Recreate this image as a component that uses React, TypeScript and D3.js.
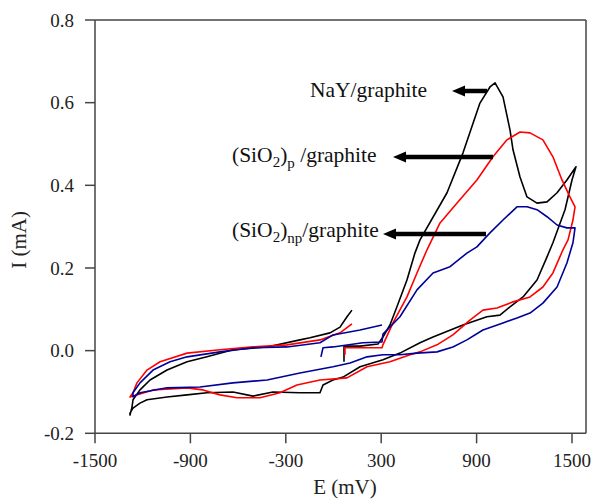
import React from "react";
import * as d3 from "d3";

const xTicks = [-1500, -900, -300, 300, 900, 1500];
const yTicks = [-0.2, 0.0, 0.2, 0.4, 0.6, 0.8];

// NaY/graphite (black)
const nayE = [66,66,167,280,311,355,399,462,512,544,714,814,921,984,1016,1066,1110,1129,1173,1217,1280,1343,1406,1468,1525,1500,1456,1380,1343,1280,1192,1110,1047,965,814,626,544,418,311,167,60,-3,-66,-85,-211,-381,-506,-632,-796,-921,-1047,-1173,-1217,-1261,-1280,-1280,-1267,-1261,-1217,-1154,-1047,-921,-796,-632,-418,-211,-148,-22,41,85,116];
const nayI = [-0.027,0.011,0.011,0.016,0.033,0.062,0.106,0.171,0.236,0.268,0.382,0.478,0.599,0.638,0.648,0.614,0.534,0.486,0.420,0.372,0.357,0.360,0.382,0.413,0.445,0.413,0.341,0.261,0.227,0.171,0.130,0.106,0.086,0.082,0.062,0.033,0.019,-0.006,-0.022,-0.039,-0.064,-0.071,-0.083,-0.102,-0.102,-0.100,-0.110,-0.100,-0.102,-0.107,-0.112,-0.119,-0.127,-0.139,-0.151,-0.156,-0.136,-0.119,-0.095,-0.071,-0.047,-0.027,-0.015,0.002,0.009,0.026,0.031,0.043,0.057,0.082,0.098];

// (SiO2)p/graphite (red)
const sipE = [72,72,305,311,374,462,525,588,670,777,902,1003,1091,1173,1236,1317,1380,1437,1487,1519,1506,1475,1443,1380,1317,1236,1129,1028,940,858,751,651,544,481,355,211,85,-85,-230,-337,-462,-607,-714,-821,-921,-1135,-1280,-1261,-1236,-1173,-1091,-921,-714,-506,-292,-85,41,116];
const sipI = [-0.010,0.007,0.007,0.014,0.067,0.130,0.188,0.244,0.309,0.357,0.413,0.469,0.510,0.529,0.527,0.510,0.469,0.413,0.372,0.348,0.316,0.268,0.244,0.188,0.154,0.130,0.118,0.103,0.098,0.074,0.038,0.014,-0.003,-0.010,-0.027,-0.039,-0.066,-0.071,-0.083,-0.102,-0.114,-0.114,-0.107,-0.095,-0.090,-0.095,-0.112,-0.102,-0.078,-0.047,-0.027,-0.006,0.002,0.009,0.014,0.026,0.043,0.065];

// (SiO2)np/graphite (blue)
const sinpE = [-79,-66,-3,185,305,311,418,525,626,733,839,902,984,1066,1154,1217,1280,1343,1406,1468,1519,1506,1468,1406,1317,1236,1154,1066,940,839,751,651,525,418,311,211,104,-3,-211,-418,-632,-840,-1047,-1217,-1261,-1261,-1217,-1135,-1028,-921,-714,-506,-292,-85,-3,167,305];
const sinpI = [-0.015,0.007,0.009,0.019,0.021,0.040,0.082,0.147,0.188,0.203,0.236,0.251,0.285,0.316,0.348,0.348,0.341,0.324,0.304,0.297,0.297,0.261,0.212,0.154,0.115,0.091,0.079,0.067,0.050,0.026,0.009,-0.003,-0.006,-0.010,-0.010,-0.015,-0.030,-0.039,-0.054,-0.071,-0.078,-0.088,-0.090,-0.102,-0.112,-0.102,-0.078,-0.047,-0.027,-0.015,-0.003,0.007,0.009,0.019,0.038,0.050,0.062];

const series = [
  { name: "NaY", E: nayE, I: nayI, color: "#000000" },
  { name: "SiO2p", E: sipE, I: sipI, color: "#ff0000" },
  { name: "SiO2np", E: sinpE, I: sinpI, color: "#00009a" },
];

const W = 592, H = 500;
const x = d3.scaleLinear().domain([-1500, 1500]).range([95, 572]);
const y = d3.scaleLinear().domain([-0.2, 0.8]).range([433.3, 20]);
const xRight = 586;
const font = "'Liberation Serif', 'Times New Roman', serif";
const axisColor = "#444";

export default function App() {
  const line = d3
    .line<[number, number]>()
    .x((d) => x(d[0]))
    .y((d) => y(d[1]));

  const arrows = [
    { x1: 487, x2: 452, yy: 91 },
    { x1: 493, x2: 393, yy: 157 },
    { x1: 486, x2: 383, yy: 234 },
  ];

  return (
    <svg width={W} height={H} style={{ position: "absolute", left: 0, top: 0, background: "#fff", fontFamily: font }}>
      {/* frame */}
      <line x1={x(-1500)} x2={xRight} y1={y(0.8)} y2={y(0.8)} stroke={axisColor} strokeWidth={1.5} />
      <line x1={xRight} x2={xRight} y1={y(0.8)} y2={y(-0.2)} stroke={axisColor} strokeWidth={1.5} />
      <line x1={x(-1500)} x2={xRight} y1={y(-0.2)} y2={y(-0.2)} stroke={axisColor} strokeWidth={1.5} />
      <line x1={x(-1500)} x2={x(-1500)} y1={y(0.8)} y2={y(-0.2)} stroke={axisColor} strokeWidth={1.5} />
      {/* y ticks */}
      {yTicks.map((t) => (
        <g key={"y" + t}>
          <line x1={x(-1500) - 10} x2={x(-1500)} y1={y(t)} y2={y(t)} stroke={axisColor} strokeWidth={1.5} />
          <text x={74} y={y(t)} dy="0.35em" textAnchor="end" fontSize={19} fill="#222">
            {t.toFixed(1)}
          </text>
        </g>
      ))}
      {/* x ticks */}
      {xTicks.map((t) => (
        <g key={"x" + t}>
          <line x1={x(t)} x2={x(t)} y1={y(-0.2)} y2={y(-0.2) + 10} stroke={axisColor} strokeWidth={1.5} />
          <text x={x(t)} y={467} textAnchor="middle" fontSize={19} fill="#222">
            {String(t)}
          </text>
        </g>
      ))}
      {/* axis titles */}
      <text x={345} y={494} textAnchor="middle" fontSize={21} fill="#222">E (mV)</text>
      <text transform="translate(26,240) rotate(-90)" textAnchor="middle" fontSize={21} fill="#222">I (mA)</text>

      {/* curves */}
      {series.map((s) => (
        <path
          key={s.name}
          d={line(s.E.map((e, i) => [e, s.I[i]] as [number, number])) || ""}
          fill="none"
          stroke={s.color}
          strokeWidth={1.6}
          strokeLinejoin="round"
        />
      ))}

      {/* annotations */}
      <text x={310} y={97} fontSize={21.5} fill="#111">NaY/graphite</text>
      <text x={232} y={162} fontSize={21.5} fill="#111">
        (SiO<tspan fontSize={15} dy={5}>2</tspan>
        <tspan dy={-5}>)</tspan>
        <tspan fontSize={15} dy={6}>p</tspan>
        <tspan dy={-6}> /graphite</tspan>
      </text>
      <text x={232} y={237} fontSize={21.5} fill="#111">
        (SiO<tspan fontSize={15} dy={5}>2</tspan>
        <tspan dy={-5}>)</tspan>
        <tspan fontSize={15} dy={6}>np</tspan>
        <tspan dy={-6}>/graphite</tspan>
      </text>
      {arrows.map((a, i) => (
        <g key={"a" + i}>
          <line x1={a.x1} x2={a.x2 + 10} y1={a.yy} y2={a.yy} stroke="#000" strokeWidth={4.5} />
          <path d={`M${a.x2},${a.yy} L${a.x2 + 13},${a.yy - 5.5} L${a.x2 + 13},${a.yy + 5.5} Z`} fill="#000" />
        </g>
      ))}
    </svg>
  );
}
